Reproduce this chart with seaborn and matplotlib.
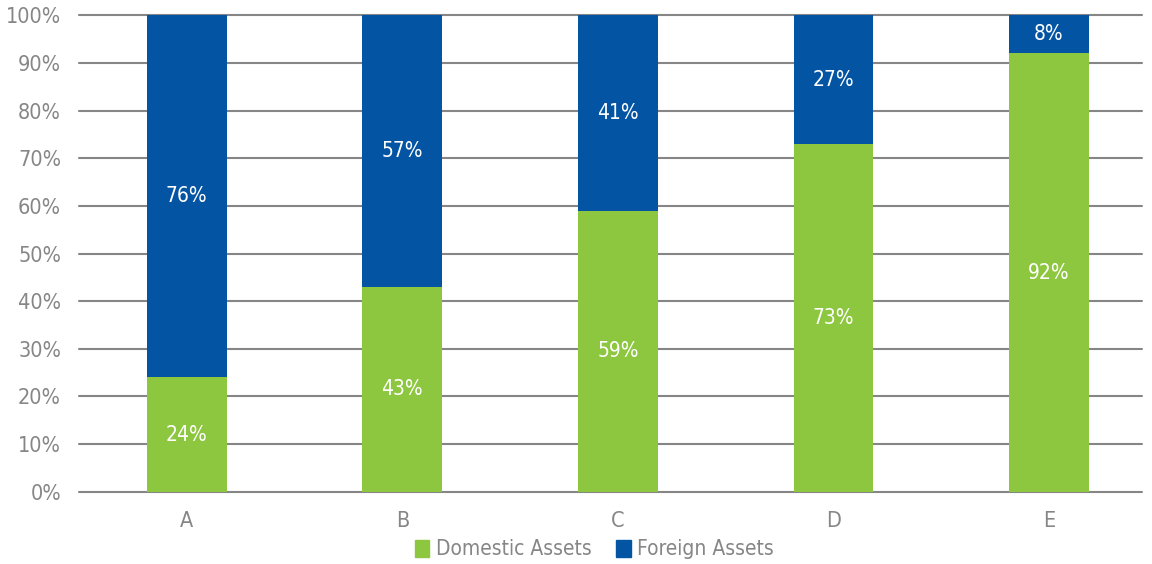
import matplotlib
matplotlib.use("Agg")
import matplotlib.pyplot as plt
from matplotlib.patches import Patch
import seaborn as sns
import pandas as pd

# Data
categories = ["A", "B", "C", "D", "E"]
domestic = [24, 43, 59, 73, 92]
foreign = [76, 57, 41, 27, 8]

green = "#8DC63F"
blue = "#0454A4"
grey = "#868686"

sns.set_style("white")
plt.rcParams['font.family'] = ['Liberation Sans Narrow', 'DejaVu Sans']
plt.rcParams['font.stretch'] = 'condensed'
plt.rcParams['font.weight'] = 'light'

df = pd.DataFrame({
    "Category": categories,
    "Domestic": domestic,
    "Foreign": foreign,
})
df["Total"] = df["Domestic"] + df["Foreign"]

fig = plt.figure(figsize=(11.52, 5.64), dpi=100)
ax = fig.add_axes([0.0686, 0.128, 0.9224, 0.845])

# Stack: total (blue) underneath, domestic (green) on top
sns.barplot(x="Category", y="Total", data=df, color=blue, width=0.37,
            saturation=1, linewidth=0, ax=ax, zorder=3)
sns.barplot(x="Category", y="Domestic", data=df, color=green, width=0.37,
            saturation=1, linewidth=0, ax=ax, zorder=3)

# Value labels
for i, (d, f) in enumerate(zip(domestic, foreign)):
    ax.text(i, d / 2, f"{d}%", ha="center", va="center", color="white",
            fontsize=15, zorder=4)
    ax.text(i, d + f / 2, f"{f}%", ha="center", va="center", color="white",
            fontsize=15, zorder=4)

ax.set_ylim(0, 100)
ax.set_xlim(-0.5, 4.43)
ax.set_yticks(range(0, 101, 10))
ax.set_yticklabels([f"{v}%" for v in range(0, 101, 10)])
ax.grid(axis="y", color=grey, linewidth=1.5, zorder=0)
for gl in ax.get_ygridlines():
    gl.set_clip_on(False)
ax.set_axisbelow(True)
for s in ax.spines.values():
    s.set_visible(False)
ax.tick_params(axis="both", length=0, colors=grey, labelsize=15.5)
ax.tick_params(axis="x", pad=14)
ax.tick_params(axis="y", pad=13)
ax.set_xlabel("")
ax.set_ylabel("")

handles = [Patch(color=green, label="Domestic Assets"),
           Patch(color=blue, label="Foreign Assets")]
leg = fig.legend(handles=handles, loc="lower center", ncol=2,
                 bbox_to_anchor=(0.516, -0.025), frameon=False, fontsize=15,
                 handlelength=0.7, handleheight=0.9, handletextpad=0.3,
                 columnspacing=1.2)
for t in leg.get_texts():
    t.set_color(grey)

fig.savefig("out.png", dpi=100)
